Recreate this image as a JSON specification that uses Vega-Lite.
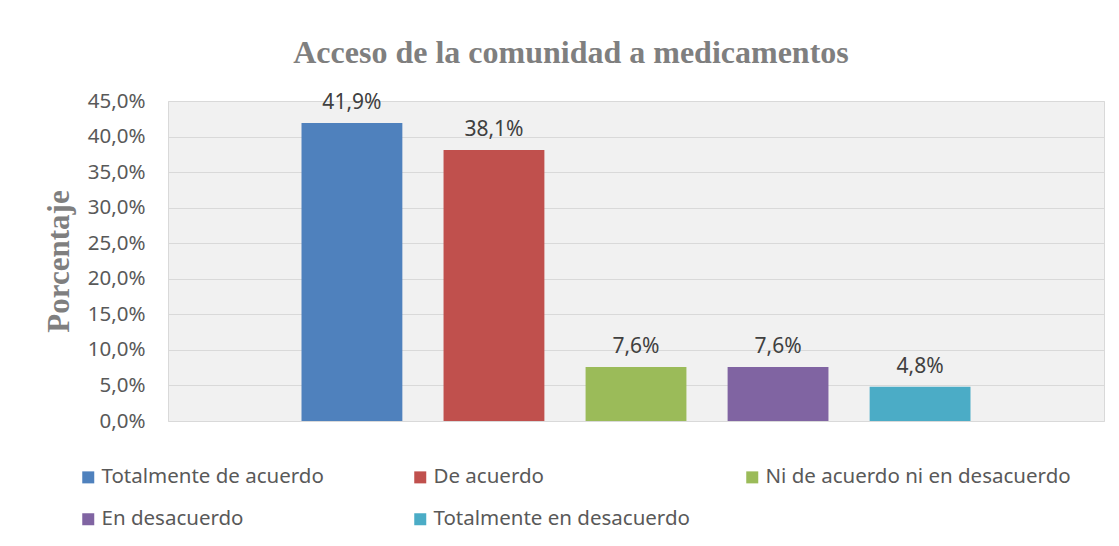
{
  "$schema": "https://vega.github.io/schema/vega-lite/v6.json",
  "autosize": {"type": "none"},
  "width": 936,
  "height": 320,
  "padding": {"left": 168, "top": 101, "right": 15, "bottom": 125},
  "background": "white",
  "title": {
    "text": "Acceso de la comunidad a medicamentos",
    "font": "Liberation Serif",
    "fontSize": 32,
    "fontWeight": "bold",
    "color": "#7f7f7f",
    "anchor": "middle",
    "dx": -65,
    "offset": -4,
    "baseline": "alphabetic"
  },
  "data": {
    "values": [
      {"categoria": "Totalmente de acuerdo", "porcentaje": 0.419},
      {"categoria": "De acuerdo", "porcentaje": 0.381},
      {"categoria": "Ni de acuerdo ni en desacuerdo", "porcentaje": 0.076},
      {"categoria": "En desacuerdo", "porcentaje": 0.076},
      {"categoria": "Totalmente en desacuerdo", "porcentaje": 0.048}
    ]
  },
  "encoding": {
    "x": {
      "field": "categoria",
      "type": "nominal",
      "sort": null,
      "scale": {"paddingInner": 0.29, "paddingOuter": 0.94},
      "axis": null
    },
    "y": {
      "field": "porcentaje",
      "type": "quantitative",
      "scale": {"domain": [0, 0.45], "nice": false},
      "axis": {
        "title": "Porcentaje",
        "titleFont": "Liberation Serif",
        "titleFontSize": 31,
        "titleFontWeight": "bold",
        "titleColor": "#7f7f7f",
        "titlePadding": 12,
        "format": ".1%",
        "values": [0, 0.05, 0.1, 0.15, 0.2, 0.25, 0.3, 0.35, 0.4, 0.45],
        "labelFont": "Noto Sans",
        "labelFontSize": 20.5,
        "labelColor": "#595959",
        "labelPadding": 23,
        "ticks": false,
        "domain": false,
        "grid": true,
        "gridColor": "#d9d9d9",
        "gridWidth": 1
      }
    }
  },
  "layer": [
    {
      "mark": {"type": "bar"},
      "encoding": {
        "color": {
          "field": "categoria",
          "type": "nominal",
          "sort": null,
          "scale": {
            "domain": ["Totalmente de acuerdo", "De acuerdo", "Ni de acuerdo ni en desacuerdo", "En desacuerdo", "Totalmente en desacuerdo"],
            "range": ["#4f81bd", "#c0504d", "#9bbb59", "#8064a2", "#4bacc6"]
          },
          "legend": {
            "title": null,
            "orient": "none",
            "legendX": -90,
            "legendY": 366,
            "padding": 0,
            "direction": "horizontal",
            "columns": 3,
            "gridAlign": "all",
            "columnPadding": 3,
            "rowPadding": 21,
            "symbolType": "square",
            "symbolSize": 144,
            "symbolStrokeWidth": 0,
            "symbolOffset": 0,
            "labelOffset": 3,
            "labelFont": "Noto Sans",
            "labelFontSize": 20.5,
            "labelColor": "#595959",
            "labelLimit": 400
          }
        }
      }
    },
    {
      "mark": {
        "type": "text",
        "baseline": "alphabetic",
        "dy": -14,
        "font": "Noto Sans",
        "fontSize": 21,
        "color": "#404040"
      },
      "encoding": {
        "text": {"field": "porcentaje", "type": "quantitative", "format": ".1%"}
      }
    }
  ],
  "config": {
    "locale": {
      "number": {"decimal": ",", "thousands": ".", "grouping": [3], "currency": ["", " €"]}
    },
    "view": {"stroke": "#d9d9d9", "strokeWidth": 1, "fill": "#f1f1f1"}
  }
}
